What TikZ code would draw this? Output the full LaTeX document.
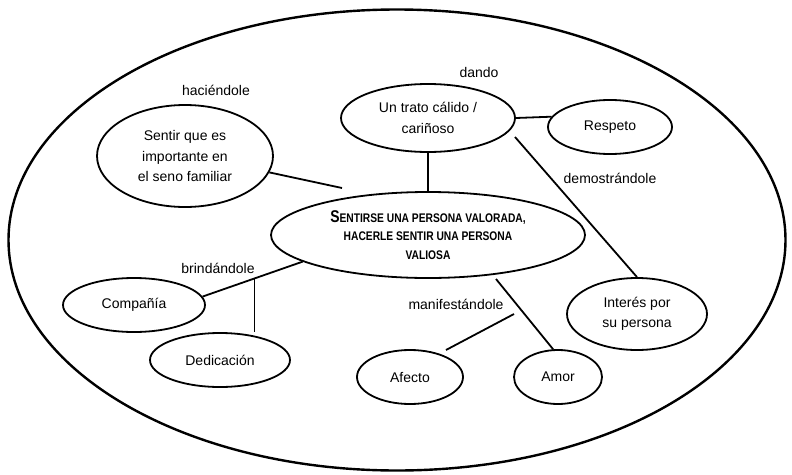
\documentclass[tikz,border=0pt]{standalone}
\usepackage{fontspec}
\setmainfont{Liberation Sans}
\newfontfamily\capsfont[FakeStretch=0.82]{Liberation Sans}
\usetikzlibrary{shapes.geometric,calc}
\newcommand{\bigS}[1]{{\fontsize{17}{18.5}\selectfont #1}}
\begin{document}
\begin{tikzpicture}[x=1pt,y=-1pt,
  bubble/.style={draw, ellipse, line width=1.8pt, inner sep=0pt, align=center,
                 font=\fontsize{14}{20.5}\selectfont},
  conn/.style={line width=1.8pt},
  lbl/.style={font=\fontsize{14}{17}\selectfont, inner sep=0pt}]
\useasboundingbox (0,0) rectangle (792,474);

\node[draw, ellipse, line width=2.4pt, minimum width=777, minimum height=461] (outer) at (397,240) {};

\node[bubble, minimum width=314, minimum height=86,
      font=\capsfont\bfseries\fontsize{12.5}{18.5}\selectfont] (central) at (428,235)
  {\bigS{S}ENTIRSE UNA PERSONA VALORADA,\\HACERLE SENTIR UNA PERSONA\\VALIOSA};
\node[bubble, minimum width=174, minimum height=68] (trato) at (428,118) {Un trato cálido /\\cariñoso};
\node[bubble, minimum width=124, minimum height=54] (respeto) at (610,127) {Respeto};
\node[bubble, minimum width=176, minimum height=102] (sentir) at (185,156) {Sentir que es\\importante en\\el seno familiar};
\node[bubble, minimum width=140, minimum height=72] (interes) at (637,314) {Interés por\\su persona};
\node[bubble, minimum width=142, minimum height=54] (compania) at (134,305) {Compañía};
\node[bubble, minimum width=140, minimum height=54] (dedicacion) at (220,360) {Dedicación};
\node[bubble, minimum width=106, minimum height=54] (afecto) at (410,377) {Afecto};
\node[bubble, minimum width=88, minimum height=54] (amor) at (558,377) {Amor};

\node[lbl] (dando) at (479,72) {dando};
\node[lbl] (haciendole) at (216,90) {haciéndole};
\node[lbl] (demostrandole) at (610,178) {demostrándole};
\node[lbl] (brindandole) at (218,268) {brindándole};
\node[lbl] (manifestandole) at (456,304) {manifestándole};

\coordinate (tratoSE) at (515,137);
\coordinate (sentirEnd) at (342,188);
\coordinate (b2) at ($(central.192)!0.48!(compania.7)$);
\coordinate (m1) at (514,314);
\coordinate (m2) at (446,350);
\coordinate (a1) at (496,279);

\draw[conn] (trato.south) -- (central.north);
\draw[conn] (trato.east) -- (respeto.170);
\draw[conn] (tratoSE) -- (interes.north);
\draw[conn] (sentir.-11) -- (sentirEnd);
\draw[conn] (central.192) -- (compania.7);
\draw[conn] (b2) -- (b2 |- dedicacion.north);
\draw[conn] (m1) -- (m2);
\draw[conn] (a1) -- (amor.100);
\end{tikzpicture}
\end{document}
